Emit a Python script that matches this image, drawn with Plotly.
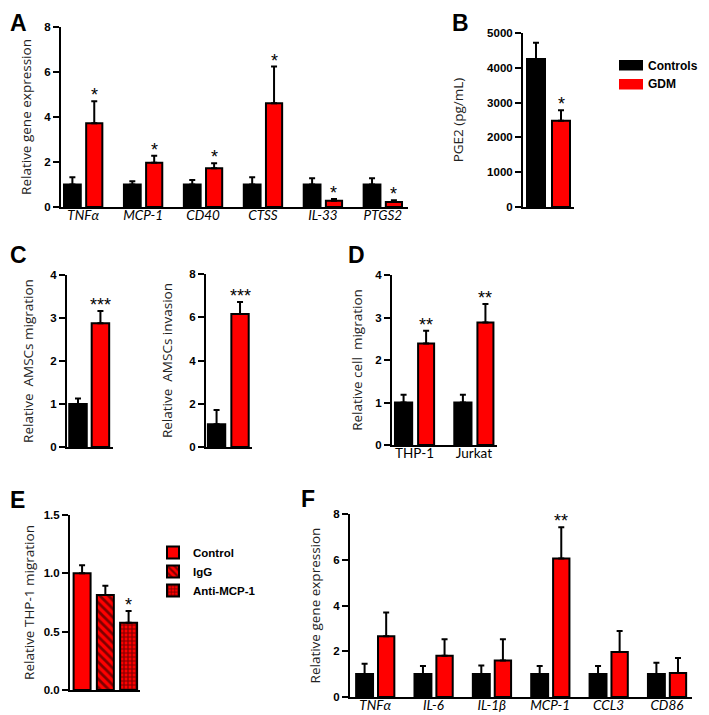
import plotly.graph_objects as go

W, H = 709, 715
# the page places the figure 8px in from the window's top-left corner;
# positions below are planned in window pixels and converted with this offset
OX, OY = 8, 8
RED = "#FF0000"
BLACK = "#000000"

# ---------------- data ----------------
# Panel A
a_genes = ["TNFα", "MCP-1", "CD40", "CTSS", "IL-33", "PTGS2"]
a_ctrl = [1.0, 1.0, 1.0, 1.0, 1.0, 1.0]
a_ctrl_err = [0.32, 0.15, 0.2, 0.32, 0.28, 0.28]
a_gdm = [3.72, 1.97, 1.72, 4.61, 0.28, 0.22]
a_gdm_err = [0.98, 0.31, 0.22, 1.63, 0.08, 0.08]
a_sig = ["*", "*", "*", "*", "*", "*"]

# Panel B
b_groups = ["Controls", "GDM"]
b_vals = [4250, 2480]
b_err = [470, 300]
b_sig = ["", "*"]

# Panel C
c_groups = ["Controls", "GDM"]
c_mig = [1.0, 2.88]
c_mig_err = [0.13, 0.28]
c_inv = [1.05, 6.15]
c_inv_err = [0.66, 0.55]
c_sig = ["", "***"]

# Panel D
d_cells = ["THP-1", "Jurkat"]
d_ctrl = [1.0, 1.0]
d_ctrl_err = [0.18, 0.18]
d_gdm = [2.39, 2.88]
d_gdm_err = [0.3, 0.44]
d_sig = ["**", "**"]

# Panel E
e_treat = ["Control", "IgG", "Anti-MCP-1"]
e_vals = [1.0, 0.814, 0.577]
e_err = [0.07, 0.08, 0.1]
e_sig = ["", "", "*"]
e_patterns = ["", "\\", "+"]

# Panel F
f_genes = ["TNFα", "IL-6", "IL-1β", "MCP-1", "CCL3", "CD86"]
f_ctrl = [1.0, 1.0, 1.0, 1.0, 1.0, 1.0]
f_ctrl_err = [0.45, 0.35, 0.38, 0.35, 0.35, 0.5]
f_gdm = [2.66, 1.8, 1.6, 6.06, 1.97, 1.05]
f_gdm_err = [1.03, 0.73, 0.93, 1.36, 0.91, 0.66]
f_sig = ["", "", "", "**", "", ""]

# ---------------- helpers ----------------
TICK_FONT = dict(family="Liberation Sans, Arial", size=11.5, color=BLACK, weight="bold")
TITLE_FONT = dict(family="Open Sans, sans-serif", size=13.5, color="#222222")
CAT_FONT = dict(family="Lato, sans-serif", size=13.5, color=BLACK)


def px(x):
    return (x - OX) / W


def py(y):
    return 1 - (y - OY) / H


def xd(left, right):
    return [px(left), px(right)]


def yd(top, bottom):
    return [py(bottom), py(top)]


fig = go.Figure()
annotations = []
shapes = []


def add_bars(ax, x, y, err, color, offset, width, name=None, showlegend=False,
             legend="legend", pattern=None):
    n = len(y)
    marker = dict(color=color, line=dict(color=BLACK, width=2))
    if pattern is not None:
        marker["pattern"] = pattern
    fig.add_trace(go.Bar(
        x=x, y=y, xaxis="x" + ax, yaxis="y" + ax,
        offset=offset, width=width, name=name, showlegend=showlegend,
        legend=legend, marker=marker,
        error_y=dict(type="data", array=err, arrayminus=[0] * n, symmetric=False,
                     color=BLACK, thickness=2, width=3),
        hoverinfo="skip",
    ))


def add_stars(ax, xs, tops, sigs):
    for x, t, s in zip(xs, tops, sigs):
        if s:
            annotations.append(dict(
                x=x, y=t, xref="x" + ax, yref="y" + ax, text=s, showarrow=False,
                yanchor="bottom", yshift=-6,
                font=dict(family="Liberation Sans, Arial", size=18, color=BLACK)))


def axis_pair(key, xdom, ydom, xrange, yrange, ydtick, title, standoff,
              tickvals=None, ticktext=None, cat_font=None, ytickformat=None):
    xk = "xaxis" if key == "" else "xaxis" + key
    yk = "yaxis" if key == "" else "yaxis" + key
    xa = dict(domain=xdom, range=xrange, anchor="y" + key, showline=True,
              linewidth=2, linecolor=BLACK, showgrid=False, zeroline=False,
              ticks="", fixedrange=True)
    if tickvals is not None:
        xa.update(tickmode="array", tickvals=tickvals, ticktext=ticktext,
                  tickfont=cat_font, showticklabels=True, ticklabelstandoff=-5)
    else:
        xa.update(showticklabels=False)
    ya = dict(domain=ydom, range=yrange, anchor="x" + key, showline=True,
              linewidth=2, linecolor=BLACK, showgrid=False, zeroline=False,
              ticks="outside", ticklen=6, tickwidth=2, tickcolor=BLACK,
              dtick=ydtick, tick0=0, tickfont=TICK_FONT, fixedrange=True,
              title=dict(text=title, font=TITLE_FONT, standoff=standoff))
    if ytickformat:
        ya["tickformat"] = ytickformat
    fig.update_layout(**{xk: xa, yk: ya})


# ---------------- Panel A ----------------
ia = list(range(len(a_genes)))
add_bars("", ia, a_ctrl, a_ctrl_err, BLACK, -0.32, 0.28)
add_bars("", ia, a_gdm, a_gdm_err, RED, 0.05, 0.27)
add_stars("", [i + 0.05 + 0.135 for i in ia],
          [v + e for v, e in zip(a_gdm, a_gdm_err)], a_sig)
axis_pair("", xd(61, 408), yd(27, 207), [-0.37, 5.42], [0, 8], 2,
          "Relative gene expression", 10, ia, a_genes,
          dict(CAT_FONT, style="italic"))

# ---------------- Panel B ----------------
add_bars("2", [0], [b_vals[0]], [b_err[0]], BLACK, None, 0.72)
add_bars("2", [1], [b_vals[1]], [b_err[1]], RED, None, 0.72)
add_stars("2", [0, 1], [v + e for v, e in zip(b_vals, b_err)], b_sig)
axis_pair("2", xd(523, 574), yd(33, 207), [-0.52, 1.52], [0, 5000], 1000,
          "PGE2 (pg/mL)", 20)

# legend for Controls / GDM (drawn as swatches + labels)
for (name, color, top) in [(b_groups[0], BLACK, 60), (b_groups[1], RED, 79)]:
    shapes.append(dict(type="rect", xref="paper", yref="paper",
                       x0=px(619), x1=px(643), y0=py(top + 10.5), y1=py(top),
                       fillcolor=color, line=dict(width=0)))
    annotations.append(dict(x=px(646), y=py(top + 5.5), xref="paper", yref="paper",
                            text=name, showarrow=False, xanchor="left", yanchor="middle",
                            font=dict(family="Liberation Sans, Arial", size=12,
                                      color=BLACK, weight="bold")))

# ---------------- Panel C (migration) ----------------
ic = list(range(len(c_groups)))
add_bars("3", ic, c_mig, c_mig_err, [BLACK, RED], None, 0.78)
add_stars("3", ic, [v + e for v, e in zip(c_mig, c_mig_err)], c_sig)
axis_pair("3", xd(67, 113), yd(275, 447), [-0.49, 1.56], [0, 4], 1,
          "Relative  AMSCs migration", 14)

# ---------------- Panel C (invasion) ----------------
add_bars("4", ic, c_inv, c_inv_err, [BLACK, RED], None, 0.74)
add_stars("4", ic, [v + e for v, e in zip(c_inv, c_inv_err)], c_sig)
axis_pair("4", xd(206, 252), yd(274, 447), [-0.45, 1.51], [0, 8], 2,
          "Relative  AMSCs invasion", 14)

# ---------------- Panel D ----------------
idd = list(range(len(d_cells)))
add_bars("5", idd, d_ctrl, d_ctrl_err, BLACK, -0.33, 0.29)
add_bars("5", idd, d_gdm, d_gdm_err, RED, 0.06, 0.27)
add_stars("5", [i + 0.06 + 0.135 for i in idd],
          [v + e for v, e in zip(d_gdm, d_gdm_err)], d_sig)
axis_pair("5", xd(392, 497), yd(275, 445), [-0.38, 1.39], [0, 4], 1,
          "Relative cell  migration", 10, idd, d_cells, CAT_FONT)

# ---------------- Panel E ----------------
for i, (name, v, e, p) in enumerate(zip(e_treat, e_vals, e_err, e_patterns)):
    pat = None
    if p == "+":
        pat = dict(shape=p, fgcolor=BLACK, bgcolor=RED, size=4, solidity=0.5,
                   fillmode="overlay")
    elif p:
        pat = dict(shape=p, fgcolor=BLACK, bgcolor=RED, size=6, solidity=0.45,
                   fillmode="overlay")
    add_bars("6", [i], [v], [e], RED, None, 0.73, name=name, showlegend=True,
             legend="legend2", pattern=pat)
add_stars("6", list(range(len(e_treat))), [v + e for v, e in zip(e_vals, e_err)], e_sig)
axis_pair("6", xd(70, 140), yd(515, 690), [-0.52, 2.49], [0, 1.5], 0.5,
          "Relative THP-1 migration", 6, ytickformat=".1f")

# ---------------- Panel F ----------------
iff = list(range(len(f_genes)))
add_bars("7", iff, f_ctrl, f_ctrl_err, BLACK, -0.325, 0.29)
add_bars("7", iff, f_gdm, f_gdm_err, RED, 0.05, 0.28)
add_stars("7", [i + 0.05 + 0.14 for i in iff],
          [v + e for v, e in zip(f_gdm, f_gdm_err)], f_sig)
axis_pair("7", xd(350, 692), yd(514, 697), [-0.43, 5.43], [0, 8], 2,
          "Relative gene expression", 10, iff, f_genes,
          dict(CAT_FONT, style="italic"))

# ---------------- panel letters ----------------
for letter, lx, ly in [("A", 8, 8), ("B", 450, 8), ("C", 8, 240),
                       ("D", 346, 240), ("E", 8, 485), ("F", 299, 484)]:
    annotations.append(dict(
        x=px(lx), y=py(ly), xref="paper", yref="paper", text=letter,
        showarrow=False, xanchor="left", yanchor="top",
        font=dict(family="Liberation Sans, Arial", size=23, color=BLACK,
                  weight="bold")))

fig.update_layout(
    width=W, height=H,
    margin=dict(l=0, r=0, t=0, b=0, autoexpand=False),
    paper_bgcolor="white", plot_bgcolor="white",
    barmode="overlay",
    annotations=annotations,
    shapes=shapes,
    legend2=dict(x=px(153), y=py(538), xanchor="left", yanchor="top",
                 font=dict(family="Liberation Sans, Arial", size=11.5, color=BLACK,
                           weight="bold"),
                 bgcolor="rgba(0,0,0,0)", tracegroupgap=0,
                 itemclick=False, itemdoubleclick=False),
    showlegend=True,
)

fig.write_html("out.html")
